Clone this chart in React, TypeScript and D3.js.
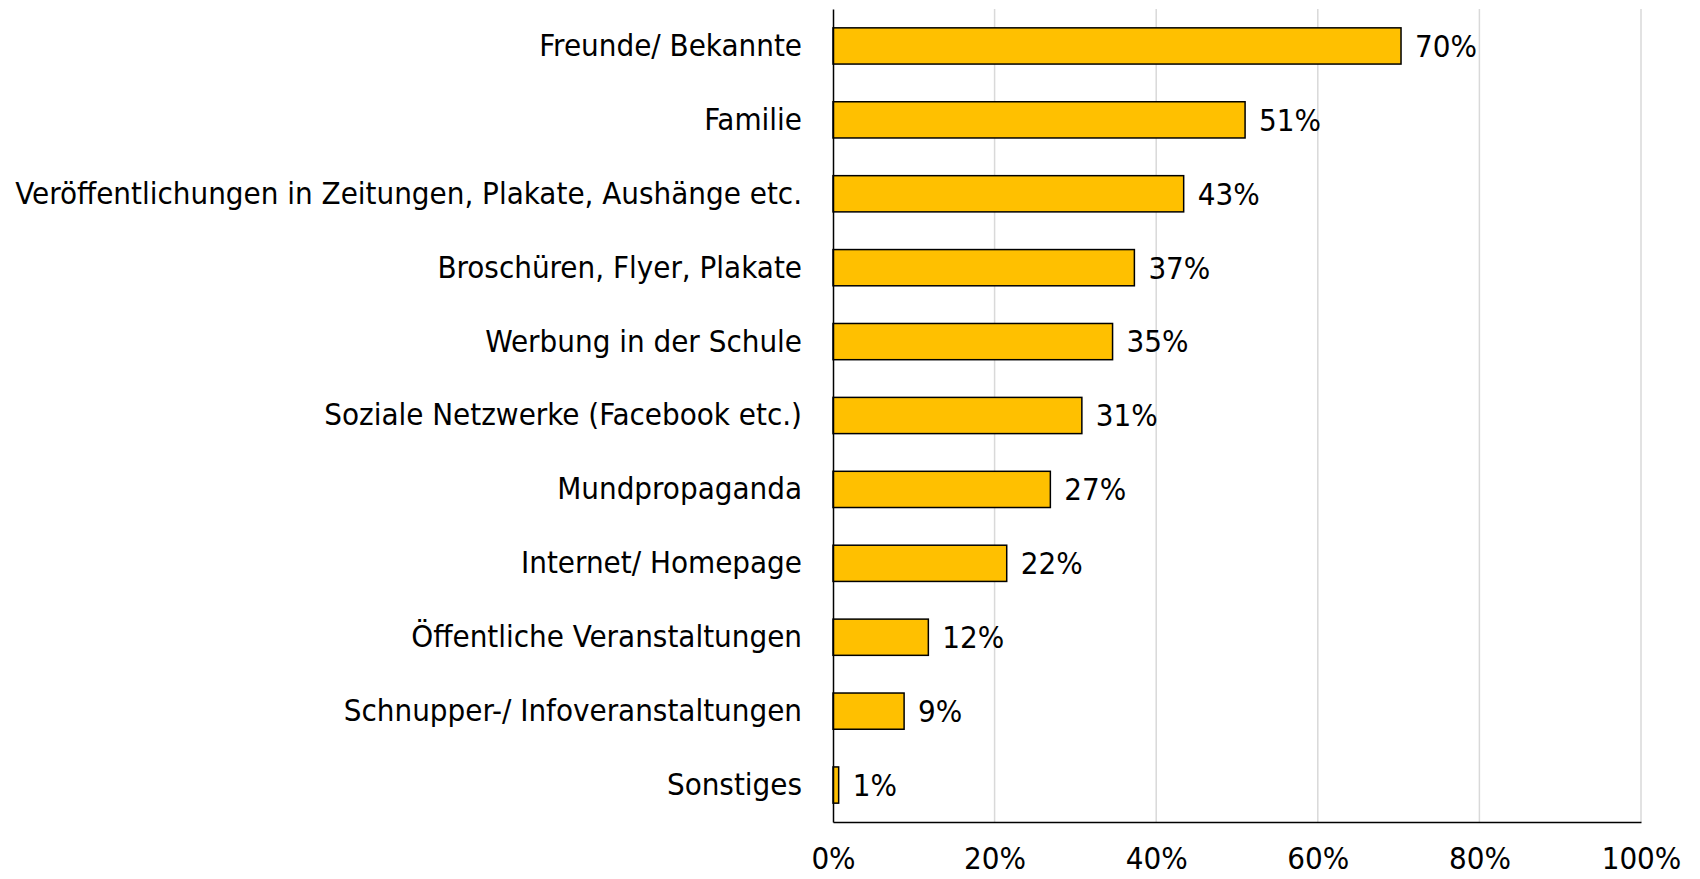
import React, { useEffect, useRef } from 'react';
import * as d3 from 'd3';

const categories = [
  'Freunde/ Bekannte',
  'Familie',
  'Veröffentlichungen in Zeitungen, Plakate, Aushänge etc.',
  'Broschüren, Flyer, Plakate',
  'Werbung in der Schule',
  'Soziale Netzwerke (Facebook etc.)',
  'Mundpropaganda',
  'Internet/ Homepage',
  'Öffentliche Veranstaltungen',
  'Schnupper-/ Infoveranstaltungen',
  'Sonstiges',
];
const shares = [70.3, 51.0, 43.4, 37.3, 34.6, 30.8, 26.9, 21.5, 11.8, 8.8, 0.7];
const xTicks = [0, 20, 40, 60, 80, 100];

const font = '"DejaVu Sans Condensed", "DejaVu Sans", sans-serif';

export default function App() {
  const ref = useRef<SVGSVGElement>(null);

  useEffect(() => {
    const width = 1700;
    const height = 879;
    const margin = { top: 9, right: 59, bottom: 57, left: 833 };
    const innerWidth = width - margin.left - margin.right;
    const innerHeight = height - margin.top - margin.bottom;

    const data = categories.map((c, i) => ({ cat: c, v: shares[i] }));

    const svg = d3.select(ref.current).attr('width', width).attr('height', height);
    svg.selectAll('*').remove();

    const g = svg.append('g').attr('transform', `translate(${margin.left}, ${margin.top})`);

    const x = d3.scaleLinear().domain([0, 100]).range([0, innerWidth]);
    const y = d3.scaleBand().domain(categories).range([0, innerHeight]).paddingInner(0.51).paddingOuter(0.255);

    // gridlines
    g.selectAll('.grid').data(xTicks.filter(t => t > 0))
      .join('line').attr('class', 'grid')
      .attr('x1', d => x(d)).attr('x2', d => x(d))
      .attr('y1', 0).attr('y2', innerHeight)
      .attr('stroke', '#d9d9d9').attr('stroke-width', 1.5);

    g.selectAll('rect').data(data)
      .join('rect')
      .attr('x', 0)
      .attr('y', d => y(d.cat)!)
      .attr('width', d => x(d.v))
      .attr('height', y.bandwidth())
      .attr('fill', '#FFC000')
      .attr('stroke', '#000')
      .attr('stroke-width', 1.5);

    // value labels
    g.selectAll('.val').data(data)
      .join('text').attr('class', 'val')
      .attr('x', d => x(d.v) + 14)
      .attr('y', d => y(d.cat)! + y.bandwidth() / 2)
      .attr('dy', '0.35em')
      .style('font-family', font)
      .style('font-size', '31px')
      .text(d => `${Math.round(d.v)}%`);

    // y axis (category labels)
    const yAxis = d3.axisLeft(y).tickSize(0).tickPadding(31);
    const ya = g.append('g').call(yAxis);
    ya.select('.domain').attr('stroke', '#000').attr('stroke-width', 1.5);
    ya.selectAll('text').style('font-family', font).style('font-size', '31px').attr('fill', '#000');

    // x axis
    const xAxis = d3.axisBottom(x).tickValues(xTicks).tickSize(0).tickPadding(25).tickFormat(d => `${d}%`);
    const xa = g.append('g').attr('transform', `translate(0, ${innerHeight})`).call(xAxis);
    xa.select('.domain').attr('stroke', '#000').attr('stroke-width', 1.5);
    xa.selectAll('text').style('font-family', font).style('font-size', '31px').attr('fill', '#000');
  }, []);

  return (
    <svg ref={ref} style={{ position: 'absolute', left: 0, top: 0, background: '#fff' }} />
  );
}
